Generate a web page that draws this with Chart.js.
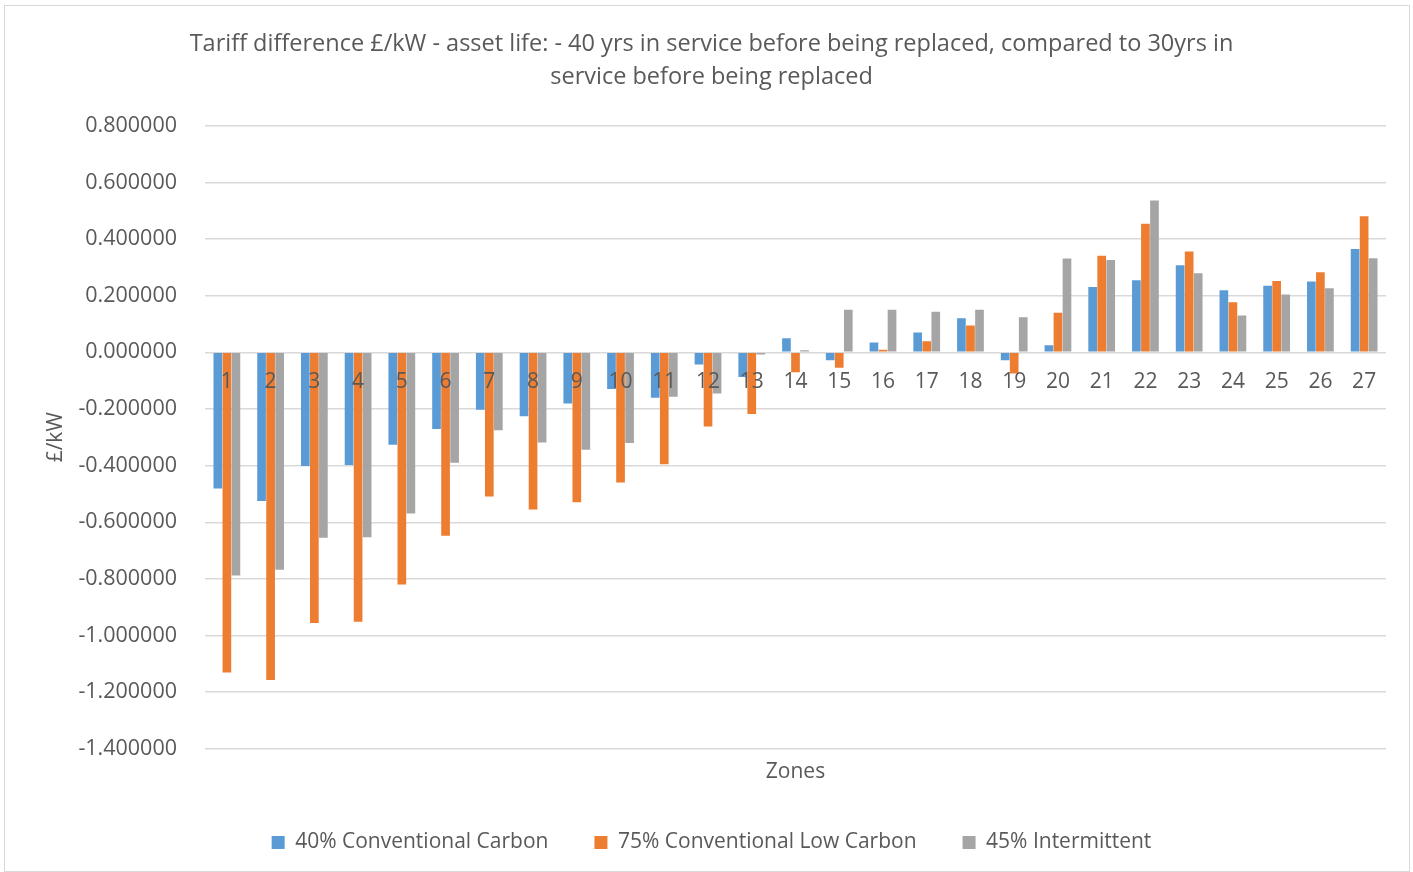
<!DOCTYPE html>
<html>
<head>
<meta charset="utf-8">
<script src="https://cdn.jsdelivr.net/npm/chart.js@4.4.1/dist/chart.umd.min.js"></script>
<style>
html,body{margin:0;padding:0;background:#fff;}
#wrap{position:absolute;left:4px;top:5px;width:1406px;height:867px;border:1px solid #d9d9d9;box-sizing:border-box;background:#fff;}
canvas{position:absolute;left:0;top:0;}
</style>
</head>
<body>
<div id="wrap"><canvas id="c" width="1406" height="867"></canvas></div>
<script>
const zones = ['1','2','3','4','5','6','7','8','9','10','11','12','13','14','15','16','17','18','19','20','21','22','23','24','25','26','27'];
const seriesNames = ['40% Conventional Carbon','75% Conventional Low Carbon','45% Intermittent'];
const conventionalCarbon = [-0.481,-0.525,-0.401,-0.398,-0.326,-0.271,-0.203,-0.226,-0.181,-0.129,-0.160,-0.043,-0.087,0.050,-0.028,0.035,0.070,0.120,-0.028,0.025,0.231,0.255,0.308,0.219,0.235,0.250,0.365];
const conventionalLowCarbon = [-1.131,-1.157,-0.956,-0.951,-0.820,-0.648,-0.509,-0.555,-0.529,-0.460,-0.395,-0.262,-0.218,-0.070,-0.054,0.009,0.039,0.095,-0.075,0.140,0.341,0.454,0.356,0.177,0.252,0.283,0.481];
const intermittent = [-0.788,-0.768,-0.655,-0.653,-0.569,-0.390,-0.275,-0.318,-0.344,-0.320,-0.157,-0.145,-0.008,0.007,0.150,0.150,0.143,0.150,0.124,0.331,0.326,0.536,0.279,0.130,0.204,0.226,0.332];
const colors = ['#5b9bd5','#ed7d31','#a5a5a5'];
const FONT = '"Open Sans", "Liberation Sans", sans-serif';
const TXT = '#595959';

const mk = (label, data, color) => ({label, data, backgroundColor: color, borderWidth:0, categoryPercentage:0.62, barPercentage:0.96, xAxisID:'x', yAxisID:'y'});

new Chart(document.getElementById('c'), {
  type: 'bar',
  data: {
    labels: zones,
    datasets: [
      mk(seriesNames[0], conventionalCarbon, colors[0]),
      mk(seriesNames[1], conventionalLowCarbon, colors[1]),
      mk(seriesNames[2], intermittent, colors[2])
    ]
  },
  options: {
    responsive: false,
    animation: false,
    layout: {padding: {left: 32, right: 25, top: 22, bottom: 10}},
    plugins: {
      tooltip: {enabled: false},
      title: {
        display: true,
        text: ['Tariff difference £/kW - asset life: - 40 yrs in service before being replaced, compared to 30yrs in','service before being replaced'],
        color: TXT,
        font: {family: FONT, size: 23.5, weight: 'normal', lineHeight: 1.4},
        padding: {top: 0, bottom: 32}
      },
      legend: {
        position: 'bottom',
        labels: {color: TXT, font: {family: FONT, size: 21}, boxWidth: 13, boxHeight: 13, padding: 46}
      }
    },
    scales: {
      x: {
        type: 'category',
        position: {y: 0},
        grid: {display: false, drawTicks: false},
        border: {display: false},
        ticks: {z: 1, color: TXT, font: {family: FONT, size: 21}, padding: 17, maxRotation: 0, autoSkip: false}
      },
      x2: {
        type: 'category',
        position: 'bottom',
        labels: zones,
        grid: {display: false, drawTicks: false},
        border: {display: false},
        ticks: {display: false},
        title: {display: true, text: 'Zones', color: TXT, font: {family: FONT, size: 21}, padding: {top: 11, bottom: 1}}
      },
      y: {
        min: -1.4, max: 0.8,
        afterFit: s => { s.width = 168; },
        ticks: {stepSize: 0.2, color: TXT, font: {family: FONT, size: 21.5}, padding: 28, callback: v => v.toFixed(6)},
        grid: {color: '#d9d9d9', lineWidth: 1.5, drawTicks: false},
        border: {display: false},
        title: {display: true, text: '£/kW', color: TXT, font: {family: FONT, size: 21}, padding: {top: 6, bottom: 0}}
      }
    }
  }
});
</script>
</body>
</html>
